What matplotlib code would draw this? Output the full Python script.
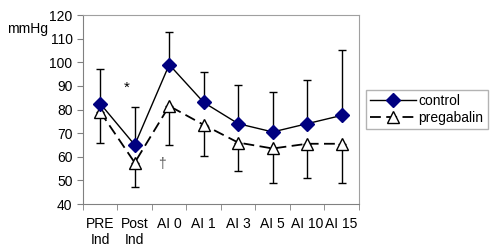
import matplotlib
matplotlib.use("Agg")
import matplotlib.pyplot as plt
import numpy as np

plt.rcParams['font.family'] = ['Liberation Sans', 'DejaVu Sans']

categories = ["PRE\nInd", "Post\nInd", "AI 0", "AI 1", "AI 3", "AI 5", "AI 10", "AI 15"]
control = [82.5, 65, 99, 83, 74, 70.5, 74, 77.5]
control_upper = [97, 81, 113, 96, 90.5, 87.5, 92.5, 105]
pregabalin = [79, 57.5, 81.5, 73.5, 66, 63.5, 65.5, 65.5]
pregabalin_lower = [66, 47, 65, 60.5, 54, 49, 51, 49]

fig = plt.figure(figsize=(4.99, 2.49), dpi=100)
ax = fig.add_axes([0.1663, 0.1807, 0.553, 0.759])

x = np.arange(len(categories))
c_err = np.array(control_upper) - np.array(control)
p_err = np.array(pregabalin) - np.array(pregabalin_lower)

ax.errorbar(x, control, yerr=[np.zeros_like(c_err), c_err], fmt='none',
            ecolor='black', elinewidth=1, capsize=3.2, capthick=1, zorder=2)
ax.errorbar(x, pregabalin, yerr=[p_err, np.zeros_like(p_err)], fmt='none',
            ecolor='black', elinewidth=1, capsize=3.2, capthick=1, zorder=2)

ax.plot(x, control, color='black', lw=1, marker='D', markersize=7,
        markerfacecolor='#000080', markeredgecolor='#000080', label='control', zorder=4)
ax.plot(x, pregabalin, color='black', lw=1.3, dashes=(6, 3), marker='^', markersize=9,
        markerfacecolor='white', markeredgecolor='black', label='pregabalin', zorder=3)

ax.set_xlim(-0.5, len(categories) - 0.5)
ax.set_ylim(40, 120)
ax.set_yticks(np.arange(40, 121, 10))
ax.set_xticks(x)
ax.set_xticklabels(categories, fontsize=10, linespacing=1.2)
ax.set_xticks(np.arange(-0.5, len(categories), 1), minor=True)
ax.tick_params(axis='x', which='major', length=0, pad=9)
ax.tick_params(axis='x', which='minor', length=4, color='#808080', direction='out')
ax.tick_params(axis='y', length=4, color='#808080', direction='out', labelsize=10)

for s in ['top', 'right']:
    ax.spines[s].set_color('#a0a0a0')
for s in ['left', 'bottom']:
    ax.spines[s].set_color('#808080')

ax.text(0.78, 89, '*', fontsize=11, ha='center', va='center')
ax.text(1.8, 57, '\u2020', fontsize=10, ha='center', va='center', color='#555555')

fig.text(0.014, 0.885, 'mmHg', fontsize=10, ha='left', va='center')

leg = ax.legend(loc='center left', bbox_to_anchor=(1.025, 0.5), frameon=True, fancybox=False,
                fontsize=10, handlelength=3.3, borderpad=0.3, labelspacing=0.25,
                handletextpad=0.2, borderaxespad=0)
leg.get_frame().set_edgecolor('#a0a0a0')
leg.get_frame().set_linewidth(1)

fig.savefig('out.png', dpi=100)
